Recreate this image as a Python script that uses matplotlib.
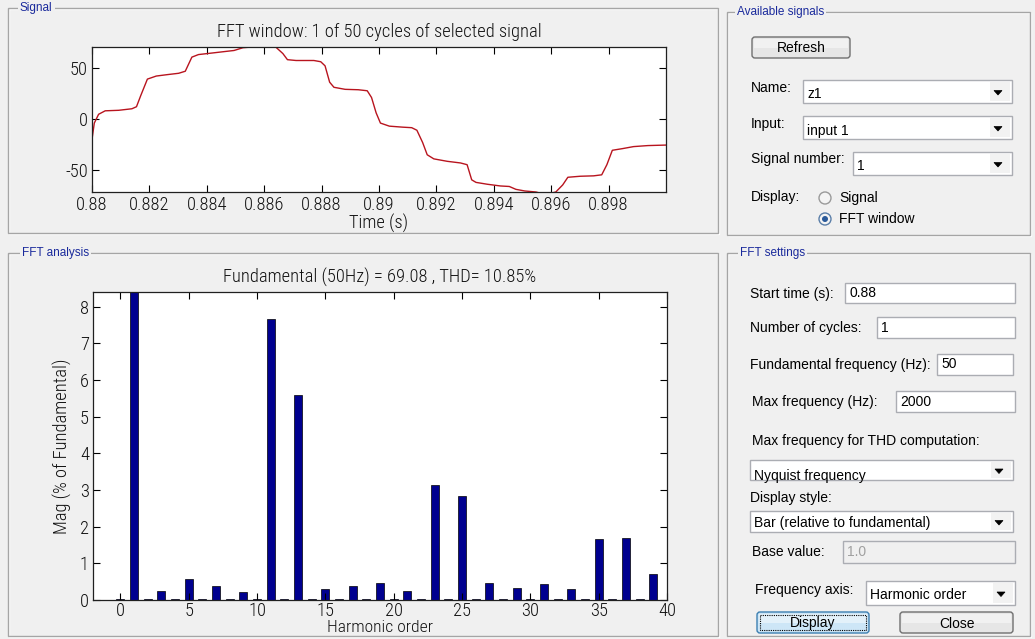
import matplotlib
matplotlib.use('Agg')
import matplotlib.pyplot as plt
from matplotlib.patches import Rectangle, Circle, Polygon, FancyBboxPatch

plt.rcParams['font.family'] = ['Liberation Sans', 'DejaVu Sans']
plt.rcParams['axes.unicode_minus'] = False

# ---------------- data ----------------
signal_time = [0.88000, 0.88008, 0.88023, 0.88046, 0.88093, 0.88139, 0.88155, 0.88170,
               0.88193, 0.88224, 0.88263, 0.88302, 0.88325, 0.88348, 0.88371, 0.88418,
               0.88464, 0.88495, 0.88526, 0.88557, 0.88600, 0.88640, 0.88665, 0.88681,
               0.88711, 0.88773, 0.88797, 0.88812, 0.88828, 0.88843, 0.88882, 0.88928,
               0.88959, 0.88974, 0.88990, 0.89005, 0.89036, 0.89083, 0.89114, 0.89132,
               0.89152, 0.89168, 0.89191, 0.89238, 0.89284, 0.89307, 0.89323, 0.89338,
               0.89377, 0.89423, 0.89454, 0.89477, 0.89508, 0.89547, 0.89580, 0.89616,
               0.89640, 0.89658, 0.89701, 0.89748, 0.89776, 0.89794, 0.89813, 0.89848,
               0.89887, 0.89937, 0.90000]
signal_value = [-20.0, -4.0, 4.6, 8.0, 8.5, 10.0, 12.0, 23.0,
                39.0, 42.0, 43.4, 44.7, 46.7, 60.5, 63.0, 64.5,
                66.0, 67.0, 69.7, 70.4, 73.0, 70.4, 64.0, 58.0,
                57.2, 57.2, 56.0, 52.0, 36.0, 31.0, 29.0, 28.6,
                27.6, 21.0, 6.0, -4.0, -7.0, -8.0, -8.5, -11.0,
                -23.0, -35.0, -39.0, -41.4, -43.0, -44.7, -59.5, -62.0,
                -63.8, -65.5, -66.0, -68.8, -70.4, -71.4, -74.0, -71.4,
                -64.5, -57.0, -56.0, -55.6, -54.6, -44.7, -30.6, -29.0,
                -27.0, -26.0, -25.5]

harmonic_order = list(range(0, 40))
harmonic_mag = [0.03, 100.0, 0.03, 0.25, 0.03, 0.58, 0.03, 0.39, 0.03, 0.21,
                0.03, 7.65, 0.03, 5.59, 0.03, 0.30, 0.03, 0.39, 0.03, 0.46,
                0.03, 0.25, 0.03, 3.14, 0.03, 2.83, 0.03, 0.46, 0.03, 0.34,
                0.03, 0.43, 0.03, 0.29, 0.03, 1.67, 0.03, 1.70, 0.03, 0.71]

signal_xticks = [0.88, 0.882, 0.884, 0.886, 0.888, 0.89, 0.892, 0.894, 0.896, 0.898]
signal_xticklabels = ['0.88', '0.882', '0.884', '0.886', '0.888', '0.89', '0.892',
                      '0.894', '0.896', '0.898']
signal_yticks = [-50, 0, 50]
fft_xticks = [0, 5, 10, 15, 20, 25, 30, 35, 40]
fft_yticks = [0, 1, 2, 3, 4, 5, 6, 7, 8]

signal_title = 'FFT window: 1 of 50 cycles of selected signal'
fft_title = 'Fundamental (50Hz) = 69.08 , THD= 10.85%'

# ---------------- figure ----------------
W, H = 1035, 639
BG = '#f0f0f0'
fig = plt.figure(figsize=(W / 100, H / 100), dpi=100, facecolor=BG)
bg = fig.add_axes([0, 0, 1, 1])
bg.set_xlim(0, W)
bg.set_ylim(H, 0)
bg.axis('off')

GUI_FS = 10
LABEL_COL = '#1a2a9c'


def panel(x0, y0, x1, y1, title, tx):
    bg.add_patch(Rectangle((x0 + 1, y0 + 1), x1 - x0, y1 - y0, fill=False, ec='white', lw=1))
    bg.add_patch(Rectangle((x0, y0), x1 - x0, y1 - y0, fill=False, ec='#a5a5a5', lw=1))
    bg.text(tx, y0, title, color=LABEL_COL, fontsize=8.5, va='center', ha='left',
            bbox=dict(fc=BG, ec='none', pad=1.5))


def label(x, y, s, **kw):
    kw.setdefault('fontsize', GUI_FS)
    bg.text(x, y, s, va='center', ha='left', color='black', **kw)


def textbox(x0, y0, x1, y1, s, fc='white', tc='black'):
    bg.add_patch(Rectangle((x0, y0), x1 - x0, y1 - y0, fc=fc, ec='#abadb3', lw=1))
    bg.text(x0 + 4, (y0 + y1) / 2, s, va='center', ha='left', fontsize=GUI_FS, color=tc)


def arrow(cx, cy):
    bg.add_patch(Polygon([[cx - 4, cy - 2], [cx + 4, cy - 2], [cx, cy + 2.5]],
                         closed=True, fc='black', ec='black', lw=0.5))


def dropdown(x0, y0, x1, y1, s, ty=None, clip=False):
    r = Rectangle((x0, y0), x1 - x0, y1 - y0, fc='white', ec='#abadb3', lw=1)
    bg.add_patch(r)
    bg.add_patch(Rectangle((x1 - 22, y0 + 2), 20, y1 - y0 - 4, fc='#f2f2f2', ec='none'))
    if ty is None:
        ty = (y0 + y1) / 2 + 3
    t = bg.text(x0 + 4, ty, s, va='center', ha='left', fontsize=GUI_FS, color='black')
    if clip:
        t.set_clip_path(r)
    arrow(x1 - 14, (y0 + y1) / 2 + 1)


def button(x0, y0, x1, y1, s, fc='#e6e6e6', ec='#707070', focus=False):
    bg.add_patch(FancyBboxPatch((x0, y0), x1 - x0, y1 - y0,
                                boxstyle='round,pad=0,rounding_size=3', fc=fc, ec=ec, lw=1))
    bg.add_patch(Rectangle((x0 + 2, y0 + 2), x1 - x0 - 4, (y1 - y0) / 2 - 2,
                           fc='white', ec='none', alpha=0.45))
    if focus:
        bg.add_patch(Rectangle((x0 + 3, y0 + 3), x1 - x0 - 6, y1 - y0 - 6, fill=False,
                               ec='black', lw=0.8, ls=(0, (1, 1))))
    bg.text((x0 + x1) / 2, (y0 + y1) / 2 + 1, s, va='center', ha='center',
            fontsize=GUI_FS, color='black')


# panels
panel(8, 8, 718, 233, 'Signal', 20)
panel(8, 253, 718, 636, 'FFT analysis', 22)
panel(727, 12, 1030, 235, 'Available signals', 737)
panel(727, 253, 1030, 636, 'FFT settings', 740)

# ---- Available signals ----
button(752, 37, 850, 58, 'Refresh')
label(751, 88, 'Name:')
dropdown(803, 80, 1012, 103, 'z1')
label(751, 124, 'Input:')
dropdown(803, 116, 1012, 139, 'input 1')
label(751, 159, 'Signal number:')
dropdown(853, 152, 1012, 175, '1')
label(751, 197, 'Display:')
bg.add_patch(Circle((825, 198), 6, fc='#f4f4f4', ec='#9a9a9a', lw=1))
label(839, 198, 'Signal')
bg.add_patch(Circle((825, 219), 6, fc='#f4f4f4', ec='#5a7ea8', lw=1))
bg.add_patch(Circle((825, 219), 3, fc='#2a5a9a', ec='none'))
label(839, 219, 'FFT window')

# ---- FFT settings ----
label(750, 294, 'Start time (s):')
textbox(845, 283, 1015, 303, '0.88')
label(750, 328, 'Number of cycles:')
textbox(877, 317, 1015, 338, '1')
label(750, 365, 'Fundamental frequency (Hz):')
textbox(937, 354, 1013, 375, '50')
label(752, 402, 'Max frequency (Hz):')
textbox(896, 391, 1015, 412, '2000')
label(752, 441, 'Max frequency for THD computation:')
dropdown(750, 460, 1013, 480, 'Nyquist frequency', ty=476, clip=True)
label(750, 498, 'Display style:')
dropdown(750, 511, 1013, 532, 'Bar (relative to fundamental)', ty=523)
label(752, 552, 'Base value:')
textbox(843, 541, 1015, 563, '1.0', fc='#f0f0f0', tc='#a0a0a0')
label(755, 590, 'Frequency axis:')
dropdown(866, 581, 1015, 605, 'Harmonic order', ty=595)
button(757, 612, 869, 633, 'Display', fc='#cde6f7', ec='#3c7fb1', focus=True)
button(900, 612, 1013, 633, 'Close')


# ---------------- data axes ----------------
def fax(l, t, r, b):
    return fig.add_axes([l / W, 1 - b / H, (r - l) / W, (b - t) / H])


AX_FS = 13.3
AX_FAM = ['Roboto Condensed', 'Liberation Sans', 'DejaVu Sans']
AX_W = 'light'
TXT_COL = '#111111'


def style(ax, xpad=3):
    ax.set_facecolor('white')
    ax.tick_params(direction='in', length=5, width=0.8, top=True, right=True,
                   labelsize=AX_FS, pad=3, labelcolor=TXT_COL)
    ax.tick_params(axis='x', pad=xpad)
    for lab in ax.get_xticklabels() + ax.get_yticklabels():
        lab.set_family(AX_FAM)
        lab.set_weight(AX_W)
    for s in ax.spines.values():
        s.set_linewidth(0.9)
        s.set_color('#202020')


tkw = dict(fontsize=AX_FS, family=AX_FAM, weight=AX_W, color=TXT_COL)

# signal axes
ax1 = fax(92, 47, 666, 192)
ax1.plot(signal_time, signal_value, color='#b8141e', lw=1.0)
ax1.set_xlim(0.88, 0.90)
ax1.set_ylim(-71.4, 70.4)
ax1.set_xticks(signal_xticks)
ax1.set_xticklabels(signal_xticklabels)
ax1.set_yticks(signal_yticks)
ax1.set_xlabel('Time (s)', labelpad=0, **tkw)
ax1.set_title(signal_title, pad=7, **tkw)
style(ax1)

# FFT axes
ax2 = fax(93, 292, 667, 600)
ax2.bar(harmonic_order, harmonic_mag, width=0.6, color='#00008f', edgecolor='black', lw=0.5)
ax2.set_xlim(-2, 40)
ax2.set_ylim(0, 8.4)
ax2.set_xticks(fft_xticks)
ax2.set_yticks(fft_yticks)
ax2.set_xlabel('Harmonic order', labelpad=0, fontsize=12.6, family=AX_FAM,
               weight=AX_W, color=TXT_COL)
ax2.set_ylabel('Mag (% of Fundamental)', labelpad=6, **tkw)
ax2.set_title(fft_title, pad=7, **tkw)
style(ax2, xpad=1.5)

fig.savefig('out.png', dpi=100, facecolor=BG)
